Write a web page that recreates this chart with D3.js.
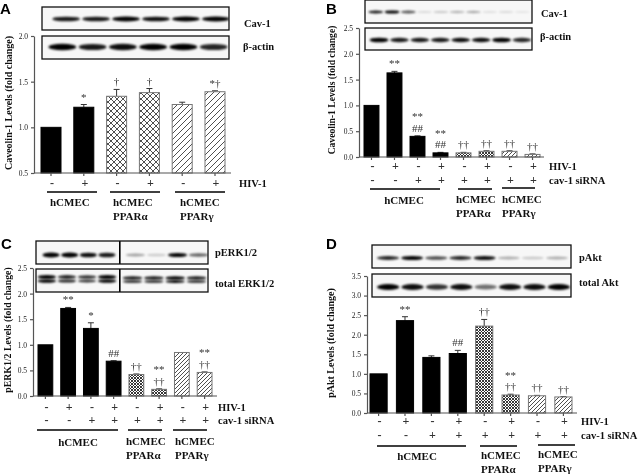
<!DOCTYPE html>
<meta charset='utf-8'>
<style>
    html, body {
        margin: 0;
        background: white;
    }

    svg {
        display: block;
        font-family: 'Liberation Serif', serif;
        filter: blur(0.3px);
    }

    .axis path, .axis line {
        stroke: #555;
        stroke-width: 1.2;
    }

    .axis text {
        font-size: 7.5px;
        font-family: 'Liberation Serif', serif;
        fill: #222;
    }

    .label {
        font-weight: bold;
        font-size: 10.5px;
        fill: #111;
    }

    .group {
        font-weight: bold;
        font-size: 11px;
        fill: #111;
    }

    .title {
        font-weight: bold;
        fill: #111;
    }

    .sign {
        font-size: 12px;
        font-weight: bold;
        fill: #333;
        text-anchor: middle;
    }

    .note {
        font-size: 11px;
        fill: #333;
        text-anchor: middle;
    }

    .letter {
        font-family: 'Liberation Sans', sans-serif;
        font-weight: bold;
        font-size: 15px;
        fill: black;
    }
</style>
<title>Caveolin-1, pERK and pAkt levels</title>
<body>

<script src='https://cdn.jsdelivr.net/npm/d3@7'></script>
<script>

	// bar values
	let valuesA = [1.0, 1.22, 1.34, 1.38, 1.25, 1.39];
	let errorsA = [0, 0.03, 0.075, 0.045, 0.025, 0.01];
	let fillsA = ['solid', 'solid', 'cross', 'cross', 'diag', 'diag'];
	let notesA = [[], ['*'], ['†'], ['†'], [], ['*†']];
	let hivA = ['-', '+', '-', '+', '-', '+'];

	let valuesB = [1.0, 1.63, 0.40, 0.08, 0.08, 0.11, 0.11, 0.05];
	let errorsB = [0, 0.03, 0.01, 0.01, 0.01, 0.01, 0.01, 0.01];
	let fillsB = ['solid', 'solid', 'solid', 'solid', 'dense', 'dense', 'fine', 'fine'];
	let notesB = [[], ['**'], ['##', '**'], ['##', '**'], ['††'], ['††'], ['††'], ['††']];

	let valuesC = [1.0, 1.71, 1.32, 0.68, 0.42, 0.13, 0.85, 0.46];
	let errorsC = [0, 0.02, 0.11, 0.01, 0.01, 0.01, 0, 0.01];
	let fillsC = ['solid', 'solid', 'solid', 'solid', 'dense', 'dense', 'fine', 'fine'];
	let notesC = [[], ['**'], ['*'], ['##'], ['††'], ['††', '**'], [], ['††', '**']];

	let valuesD = [1.0, 2.36, 1.42, 1.52, 2.22, 0.46, 0.44, 0.41];
	let errorsD = [0, 0.1, 0.04, 0.08, 0.17, 0.02, 0.01, 0.01];
	let fillsD = ['solid', 'solid', 'solid', 'solid', 'dense', 'dense', 'fine', 'fine'];
	let notesD = [[], ['**'], [], ['##'], ['††'], ['††', '**'], ['††'], ['††']];

	let hivRow = ['-', '+', '-', '+', '-', '+', '-', '+'];
	let sirnaRow = ['-', '-', '+', '+', '+', '+', '+', '+'];

	let ticksA = [0.5, 1.0, 1.5, 2.0];
	let ticksBC = [0, 0.5, 1.0, 1.5, 2.0, 2.5];
	let ticksD = [0, 0.5, 1.0, 1.5, 2.0, 2.5, 3.0, 3.5];

	// band darkness per lane of each blot
	let bandsCavA = [0.9, 0.9, 1, 0.95, 1, 1];
	let bandsActinA = [1, 0.9, 0.95, 1, 1, 0.85];
	let bandsCavB = [0.9, 1, 0.65, 0.12, 0.2, 0.28, 0.32, 0.1, 0.12, 0.08];
	let bandsActinB = [1, 0.9, 0.9, 0.9, 0.95, 0.95, 1, 0.85];
	let bandsPerkLeft = [1, 1, 0.95, 0.9];
	let bandsPerkRight = [0.35, 0.18, 1, 0.6];
	let bandsErkLeft = [1, 0.85, 0.8, 1];
	let bandsErkRight = [0.9, 0.9, 1, 0.9];
	let bandsPakt = [0.85, 1, 0.7, 0.85, 0.95, 0.3, 0.2, 0.3];
	let bandsTotalAkt = [1, 0.95, 0.8, 0.95, 0.55, 0.95, 0.95, 1];

	let svg = d3.select('body').append('svg')
		.attr('width', 640)
		.attr('height', 475);

	let defs = svg.append('defs');

	defs.append('filter')
		.attr('id', 'blur')
		.attr('x', '-20%').attr('y', '-100%')
		.attr('width', '140%').attr('height', '300%')
		.append('feGaussianBlur')
		.attr('stdDeviation', 0.9);

	function hatch(id, size, paths, width) {
		let p = defs.append('pattern')
			.attr('id', id)
			.attr('patternUnits', 'userSpaceOnUse')
			.attr('width', size)
			.attr('height', size);
		p.append('rect').attr('width', size).attr('height', size).attr('fill', 'white');
		p.append('path').attr('d', paths).attr('stroke', '#222').attr('stroke-width', width).attr('fill', 'none');
	}

	hatch('cross', 6, 'M-1,1L1,-1M0,6L6,0M5,7L7,5M-1,5L1,7M0,0L6,6M5,-1L7,1', 0.8);
	hatch('diag', 6, 'M-1,1L1,-1M0,6L6,0M5,7L7,5', 0.8);
	hatch('dense', 3, 'M-1,1L1,-1M0,3L3,0M2,4L4,2M-1,2L1,4M0,0L3,3M2,-1L4,1', 0.9);
	hatch('fine', 4, 'M-1,1L1,-1M0,4L4,0M3,5L5,3', 0.8);

	function drawPanel(p) {
		let x = d3.scaleBand()
			.domain(d3.range(p.values.length))
			.range(p.xRange)
			.paddingInner(p.pad)
			.paddingOuter(0);

		let y = d3.scaleLinear()
			.domain(p.yDomain)
			.range(p.yRange);

		let g = svg.append('g');
		let base = p.yRange[0];

		// error bars go under the bars
		g.selectAll(null)
			.data(p.values)
			.enter().append('path')
			.attr('d', function (d, i) {
				if (!p.errors[i]) return null;
				let cx = x(i) + x.bandwidth() / 2;
				let top = y(d + p.errors[i]);
				return 'M' + cx + ',' + y(d) + 'V' + top + 'M' + (cx - 3) + ',' + top + 'H' + (cx + 3);
			})
			.attr('fill', 'none')
			.attr('stroke', '#333')
			.attr('stroke-width', 1);

		g.selectAll(null)
			.data(p.values)
			.enter().append('rect')
			.attr('x', function (d, i) { return x(i); })
			.attr('width', x.bandwidth())
			.attr('y', function (d) { return y(d); })
			.attr('height', function (d) { return base - y(d); })
			.attr('fill', function (d, i) {
				return p.fills[i] === 'solid' ? 'black' : 'url(#' + p.fills[i] + ')';
			})
			.attr('stroke', function (d, i) {
				return p.fills[i] === 'solid' ? 'black' : '#777';
			})
			.attr('stroke-width', 1);

		g.append('g')
			.attr('class', 'axis')
			.attr('transform', 'translate(' + p.axisX + ',0)')
			.call(d3.axisLeft(y)
				.tickValues(p.ticks)
				.tickFormat(d3.format('.1f'))
				.tickSize(3)
				.tickPadding(3)
				.tickSizeOuter(0));

		// x axis runs on past the last bar
		let xAxis = g.append('g')
			.attr('class', 'axis')
			.attr('transform', 'translate(0,' + base + ')')
			.call(d3.axisBottom(x).tickFormat('').tickSize(3).tickSizeOuter(0));
		xAxis.select('.domain')
			.attr('d', 'M' + p.axisX + ',0H' + p.axisEnd);

		// stacked significance marks, first entry nearest the bar
		p.notes.forEach(function (list, i) {
			let top = y(p.values[i] + p.errors[i]);
			g.selectAll(null)
				.data(list)
				.enter().append('text')
				.attr('class', 'note')
				.attr('x', x(i) + x.bandwidth() / 2)
				.attr('y', function (d, k) { return top - 4 - k * 11.5; })
				.text(function (d) { return d; });
		});

		p.rows.forEach(function (row) {
			g.selectAll(null)
				.data(row.signs)
				.enter().append('text')
				.attr('class', 'sign')
				.attr('x', function (d, i) { return x(i) + x.bandwidth() / 2 + 1; })
				.attr('y', row.y)
				.text(function (d) { return d; });
			g.append('text')
				.attr('class', 'label')
				.attr('x', p.rowLabelX)
				.attr('y', row.y)
				.text(row.label);
		});

		p.groups.forEach(function (grp) {
			g.append('line')
				.attr('x1', grp.x1).attr('x2', grp.x2)
				.attr('y1', grp.y).attr('y2', grp.y)
				.attr('stroke', 'black')
				.attr('stroke-width', 1.3);
			grp.lines.forEach(function (t, k) {
				g.append('text')
					.attr('class', 'group')
					.attr('x', grp.tx)
					.attr('y', grp.ty + k * 13.5)
					.attr('text-anchor', grp.anchor || 'start')
					.text(t);
			});
		});

		g.append('text')
			.attr('class', 'title')
			.attr('transform', 'translate(' + p.titleX + ',' + p.titleY + ') rotate(-90)')
			.attr('text-anchor', 'middle')
			.style('font-size', p.titleSize + 'px')
			.text(p.title);

		g.append('text')
			.attr('class', 'letter')
			.attr('x', p.letterX)
			.attr('y', p.letterY)
			.text(p.letter);
	}

	let clipCount = 0;

	function drawBlot(box, label, labelX, labelY) {
		let id = 'clip' + (clipCount++);
		defs.append('clipPath').attr('id', id)
			.append('rect')
			.attr('x', box[0]).attr('y', box[1])
			.attr('width', box[2] - box[0]).attr('height', box[3] - box[1]);
		let g = svg.append('g');
		g.append('rect')
			.attr('x', box[0]).attr('y', box[1])
			.attr('width', box[2] - box[0]).attr('height', box[3] - box[1])
			.attr('fill', '#f7f7f7');
		let inner = g.append('g').attr('clip-path', 'url(#' + id + ')');
		g.append('rect')
			.attr('x', box[0]).attr('y', box[1])
			.attr('width', box[2] - box[0]).attr('height', box[3] - box[1])
			.attr('fill', 'none')
			.attr('stroke', '#111')
			.attr('stroke-width', 1.3);
		g.append('text')
			.attr('class', 'label')
			.attr('x', labelX)
			.attr('y', labelY)
			.text(label);
		return inner;
	}

	function drawBands(g, bands, range, yPos, thick) {
		let lane = d3.scaleBand()
			.domain(d3.range(bands.length))
			.range(range)
			.padding(0.08);
		g.selectAll(null)
			.data(bands)
			.enter().append('ellipse')
			.attr('cx', function (d, i) { return lane(i) + lane.bandwidth() / 2; })
			.attr('cy', yPos)
			.attr('rx', lane.bandwidth() / 2)
			.attr('ry', function (d) { return thick * (0.6 + 0.4 * d); })
			.attr('fill', 'black')
			.attr('opacity', function (d) { return d; })
			.attr('filter', 'url(#blur)');
	}

	// blots, panel A
	drawBands(drawBlot([42, 7, 229, 30], 'Cav-1', 244, 27), bandsCavA, [50, 232], 19, 2.4);
	drawBands(drawBlot([42, 36, 229, 59], 'β-actin', 243, 50), bandsActinA, [46, 230], 47, 3.2);

	// panel B
	drawBands(drawBlot([365, 0, 532, 23], 'Cav-1', 541, 17), bandsCavB, [367, 531], 12, 1.6);
	drawBands(drawBlot([365, 28, 532, 50], 'β-actin', 540, 40), bandsActinB, [368, 533], 40, 2.3);

	// panel C, the blot is split in two by a black divider
	let perk = drawBlot([36, 241, 208, 264], 'pERK1/2', 215, 256);
	drawBands(perk, bandsPerkLeft, [41, 117], 255, 2.4);
	drawBands(perk, bandsPerkRight, [124, 210], 255, 2);
	let erk = drawBlot([36, 269, 208, 292], 'total ERK1/2', 215, 287);
	drawBands(erk, bandsErkLeft, [36, 118], 277, 2);
	drawBands(erk, bandsErkLeft, [36, 118], 281, 1.7);
	drawBands(erk, bandsErkRight, [121, 208], 278, 1.7);
	drawBands(erk, bandsErkRight, [121, 208], 281.5, 1.4);
	[perk, erk].forEach(function (g) {
		g.append('rect').attr('x', 119).attr('y', 235).attr('width', 1.6).attr('height', 65).attr('fill', 'black');
	});

	// panel D
	drawBands(drawBlot([372, 245, 571, 268], 'pAkt', 579, 261), bandsPakt, [375, 570], 258, 2);
	drawBands(drawBlot([372, 274, 571, 297], 'total Akt', 579, 286), bandsTotalAkt, [375, 572], 287, 3);

	drawPanel({
		letter: 'A', letterX: 0, letterY: 14,
		values: valuesA, errors: errorsA, fills: fillsA, notes: notesA, ticks: ticksA,
		xRange: [41, 225], pad: 0.39,
		yDomain: [0.5, 2.0], yRange: [173, 36],
		axisX: 34, axisEnd: 231,
		title: 'Caveolin-1 Levels (fold change)', titleX: 12, titleY: 103, titleSize: 10,
		rowLabelX: 239,
		rows: [{label: 'HIV-1', signs: hivA, y: 187}],
		groups: [
			{x1: 47, x2: 97, y: 192, tx: 50, ty: 206, lines: ['hCMEC']},
			{x1: 110, x2: 160, y: 192, tx: 113, ty: 206, lines: ['hCMEC', 'PPARα']},
			{x1: 175, x2: 225, y: 192, tx: 180, ty: 206, lines: ['hCMEC', 'PPARγ']}
		]
	});

	drawPanel({
		letter: 'B', letterX: 326, letterY: 14,
		values: valuesB, errors: errorsB, fills: fillsB, notes: notesB, ticks: ticksBC,
		xRange: [364, 540], pad: 0.35,
		yDomain: [0, 2.5], yRange: [157, 28],
		axisX: 359, axisEnd: 544,
		title: 'Caveolin-1 Levels (fold change)', titleX: 335, titleY: 90, titleSize: 9.6,
		rowLabelX: 549,
		rows: [{label: 'HIV-1', signs: hivRow, y: 170}, {label: 'cav-1 siRNA', signs: sirnaRow, y: 184}],
		groups: [
			{x1: 370, x2: 440, y: 189, tx: 404, ty: 204, anchor: 'middle', lines: ['hCMEC']},
			{x1: 458, x2: 492, y: 189, tx: 456, ty: 203, lines: ['hCMEC', 'PPARα']},
			{x1: 502, x2: 535, y: 188, tx: 502, ty: 203, lines: ['hCMEC', 'PPARγ']}
		]
	});

	drawPanel({
		letter: 'C', letterX: 1, letterY: 249,
		values: valuesC, errors: errorsC, fills: fillsC, notes: notesC, ticks: ticksBC,
		xRange: [38, 212], pad: 0.35,
		yDomain: [0, 2.5], yRange: [396, 268],
		axisX: 33, axisEnd: 217,
		title: 'pERK1/2 Levels (fold change)', titleX: 11, titleY: 330, titleSize: 9.8,
		rowLabelX: 218,
		rows: [{label: 'HIV-1', signs: hivRow, y: 411}, {label: 'cav-1 siRNA', signs: sirnaRow, y: 424}],
		groups: [
			{x1: 37, x2: 118, y: 430, tx: 78, ty: 446, anchor: 'middle', lines: ['hCMEC']},
			{x1: 128, x2: 162, y: 430, tx: 126, ty: 445, lines: ['hCMEC', 'PPARα']},
			{x1: 173, x2: 207, y: 430, tx: 175, ty: 445, lines: ['hCMEC', 'PPARγ']}
		]
	});

	drawPanel({
		letter: 'D', letterX: 326, letterY: 249,
		values: valuesD, errors: errorsD, fills: fillsD, notes: notesD, ticks: ticksD,
		xRange: [370, 572], pad: 0.35,
		yDomain: [0, 3.5], yRange: [413, 276],
		axisX: 367, axisEnd: 577,
		title: 'pAkt Levels (fold change)', titleX: 334, titleY: 343, titleSize: 10,
		rowLabelX: 581,
		rows: [{label: 'HIV-1', signs: hivRow, y: 425}, {label: 'cav-1 siRNA', signs: sirnaRow, y: 439}],
		groups: [
			{x1: 377, x2: 466, y: 446, tx: 417, ty: 460, anchor: 'middle', lines: ['hCMEC']},
			{x1: 480, x2: 517, y: 446, tx: 481, ty: 459, lines: ['hCMEC', 'PPARα']},
			{x1: 538, x2: 575, y: 445, tx: 538, ty: 458, lines: ['hCMEC', 'PPARγ']}
		]
	});

</script>
</body>
